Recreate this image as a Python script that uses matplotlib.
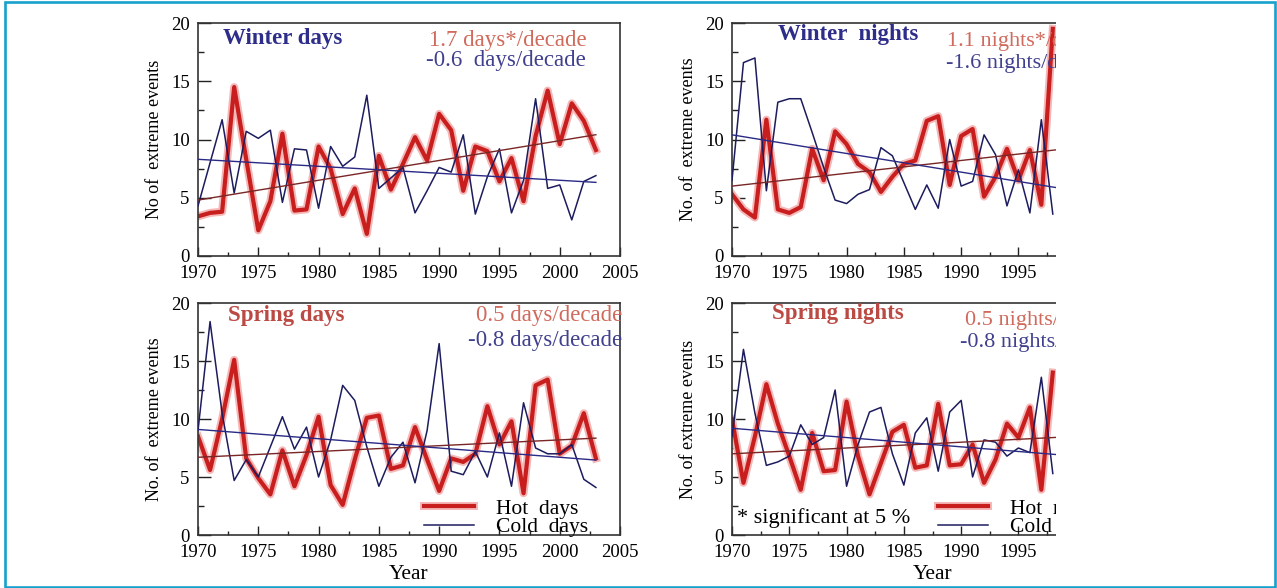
import matplotlib
matplotlib.use('Agg')
import matplotlib.pyplot as plt
import matplotlib.patheffects as pe
from matplotlib.lines import Line2D
from matplotlib.patches import Rectangle
from matplotlib.ticker import MultipleLocator

plt.rcParams['font.family'] = ['Liberation Serif', 'DejaVu Serif']

years_days = list(range(1970, 2004))
years_nights = list(range(1970, 1999))

# number of extreme events per season
winter_days_hot = [3.4, 3.7, 3.8, 14.5, 8.3, 2.2, 4.7, 10.5, 3.9, 4.0, 9.4, 7.5,
                   3.6, 5.8, 1.9, 8.6, 5.7, 7.9, 10.2, 8.2, 12.2, 10.8, 5.6, 9.4,
                   9.0, 6.4, 8.4, 4.7, 10.3, 14.2, 9.6, 13.1, 11.6, 9.1]
winter_days_cold = [4.3, 8.0, 11.7, 5.4, 10.7, 10.1, 10.8, 4.6, 9.2, 9.1, 4.1, 9.4,
                    7.7, 8.5, 13.8, 5.8, 6.7, 7.6, 3.7, 5.6, 7.6, 7.2, 10.4, 3.6,
                    6.8, 9.2, 3.7, 6.5, 13.5, 5.8, 6.1, 3.1, 6.4, 6.9]

spring_days_hot = [8.5, 5.6, 10.0, 15.1, 6.6, 4.9, 3.5, 7.3, 4.2, 6.9, 10.2, 4.3,
                   2.6, 6.5, 10.1, 10.3, 5.7, 6.0, 9.3, 6.5, 3.8, 6.6, 6.3, 7.0,
                   11.1, 7.8, 9.8, 3.6, 12.9, 13.4, 7.0, 7.7, 10.5, 6.6]
spring_days_cold = [9.0, 18.4, 10.5, 4.7, 6.5, 5.0, 7.6, 10.2, 7.4, 9.3, 5.0, 8.2,
                    12.9, 11.6, 7.6, 4.2, 6.7, 8.0, 4.5, 9.0, 16.5, 5.5, 5.2, 7.2,
                    5.0, 8.8, 4.2, 11.4, 7.5, 7.0, 7.0, 7.8, 4.8, 4.1]

winter_nights_hot = [5.3, 4.0, 3.3, 11.7, 4.0, 3.7, 4.2, 9.2, 6.5, 10.7, 9.6, 7.9,
                     7.2, 5.5, 6.8, 7.9, 8.2, 11.6, 12.0, 6.1, 10.3, 10.9, 5.1, 6.8,
                     9.2, 6.5, 9.1, 4.4, 19.5]
winter_nights_cold = [6.5, 16.6, 17.0, 5.6, 13.2, 13.5, 13.5, 10.6, 7.6, 4.8, 4.5, 5.3,
                      5.7, 9.3, 8.6, 6.3, 4.0, 6.1, 4.1, 10.0, 6.0, 6.4, 10.4, 8.7,
                      4.3, 7.4, 3.7, 11.7, 3.6]

spring_nights_hot = [10.0, 4.5, 8.5, 13.0, 9.6, 6.8, 3.9, 8.8, 5.5, 5.6, 11.5, 6.8,
                     3.5, 6.2, 8.9, 9.5, 5.8, 6.0, 11.3, 6.0, 6.1, 7.8, 4.5, 6.5,
                     9.6, 8.4, 11.0, 3.9, 14.0]
spring_nights_cold = [8.5, 16.0, 10.5, 6.0, 6.3, 6.8, 9.5, 7.8, 8.4, 12.5, 4.2, 7.8,
                      10.6, 11.0, 7.0, 4.3, 8.8, 10.1, 5.5, 10.6, 11.6, 5.0, 8.2, 8.0,
                      6.8, 7.5, 7.1, 13.6, 5.3]

# linear trends: value in 1970 and change per decade (hot, cold)
winter_days_trend_1970 = [4.8, 8.3]
winter_days_trend_slope = [1.7, -0.6]
spring_days_trend_1970 = [6.7, 9.1]
spring_days_trend_slope = [0.5, -0.8]
winter_nights_trend_1970 = [6.0, 10.4]
winter_nights_trend_slope = [1.1, -1.6]
spring_nights_trend_1970 = [7.0, 9.2]
spring_nights_trend_slope = [0.5, -0.8]
trend_years = [1970, 2003]

HOT = '#c81e1e'
HALO = '#f5b8b8'
COLD = '#1c1c5e'
HOT_TREND = '#7a2626'
COLD_TREND = '#2a2a86'
NAVY_TXT = '#2e2e8a'
RED_TITLE = '#bb4a44'
RED_TXT = '#d06a5c'
BLUE_TXT = '#40408e'

fig = plt.figure(figsize=(12.77, 5.88), dpi=100)
W, H = 1277.0, 588.0


def add_axes(left, top, width, height):
    return fig.add_axes([left / W, 1 - (top + height) / H, width / W, height / H])


def hot_effects():
    return [pe.Stroke(linewidth=5.8, foreground=HALO), pe.Normal()]


def draw_panel(ax, years, hot, cold, t1970, tslope, ylabel, xlabel=None):
    ax.plot(years, hot, color=HOT, lw=3.0, zorder=2, path_effects=hot_effects())
    ax.plot(years, cold, color=COLD, lw=1.1, zorder=3)
    for start, slope, c in zip(t1970, tslope, [HOT_TREND, COLD_TREND]):
        ty = [start + slope * (yr - 1970) / 10.0 for yr in trend_years]
        ax.plot(trend_years, ty, color=c, lw=1.0, zorder=4)

    ax.set_xlim(1970, 2005)
    ax.set_ylim(0, 20)
    ax.xaxis.set_major_locator(MultipleLocator(5))
    ax.xaxis.set_minor_locator(MultipleLocator(2.5))
    ax.yaxis.set_major_locator(MultipleLocator(5))
    ax.yaxis.set_minor_locator(MultipleLocator(2.5))
    ax.tick_params(which='both', direction='in', top=False, right=False,
                   labelsize=13.5, width=1.0, color='#222222')
    ax.tick_params(axis='x', which='major', length=6.5, pad=6.5)
    ax.tick_params(axis='x', which='minor', length=3)
    ax.tick_params(axis='y', which='major', length=9.5, pad=6)
    ax.tick_params(axis='y', which='minor', length=4.5)
    for sp in ax.spines.values():
        sp.set_linewidth(1.2)
        sp.set_color('#333333')
    ax.set_ylabel(ylabel, fontsize=13, labelpad=6)
    if xlabel:
        ax.set_xlabel(xlabel, fontsize=15.5, labelpad=3)


ax_wd = add_axes(198, 23, 422, 233)
ax_sd = add_axes(198, 303, 422, 232)
ax_wn = add_axes(732, 23, 401, 233)
ax_sn = add_axes(732, 303, 401, 232)

draw_panel(ax_wd, years_days, winter_days_hot, winter_days_cold,
           winter_days_trend_1970, winter_days_trend_slope, 'No of  extreme events')
draw_panel(ax_sd, years_days, spring_days_hot, spring_days_cold,
           spring_days_trend_1970, spring_days_trend_slope, 'No. of  extreme events', 'Year')
draw_panel(ax_wn, years_nights, winter_nights_hot, winter_nights_cold,
           winter_nights_trend_1970, winter_nights_trend_slope, 'No. of  extreme events')
draw_panel(ax_sn, years_nights, spring_nights_hot, spring_nights_cold,
           spring_nights_trend_1970, spring_nights_trend_slope, 'No. of extreme events', 'Year')

bold = dict(fontsize=16.5, fontweight='bold', va='center')
ax_wd.text(1972.1, 18.7, 'Winter days', color=NAVY_TXT, **bold)
ax_wn.text(1974.0, 19.0, 'Winter  nights', color=NAVY_TXT, **bold)
ax_sd.text(1972.5, 18.9, 'Spring days', color=RED_TITLE, **bold)
ax_sn.text(1973.5, 19.1, 'Spring nights', color=RED_TITLE, **bold)

note = dict(fontsize=16.5, va='center')
ax_wd.text(2002.2, 18.5, '1.7 days*/decade', color=RED_TXT, ha='right', **note)
ax_wd.text(2002.2, 16.8, '-0.6  days/decade', color=BLUE_TXT, ha='right', **note)
ax_sd.text(2005.2, 18.9, '0.5 days/decade', color=RED_TXT, ha='right', **note)
ax_sd.text(2005.2, 16.8, '-0.8 days/decade', color=BLUE_TXT, ha='right', **note)
note['fontsize'] = 16
ax_wn.text(1988.8, 18.4, '1.1 nights*/decade', color=RED_TXT, **note)
ax_wn.text(1988.7, 16.5, '-1.6 nights/decade', color=BLUE_TXT, **note)
ax_sn.text(1990.3, 18.5, '0.5 nights/decade', color=RED_TXT, **note)
ax_sn.text(1989.9, 16.6, '-0.8 nights/decade', color=BLUE_TXT, **note)

ax_sn.text(1970.4, 1.5, '* significant at 5 %', fontsize=16, va='center')

keys = [Line2D([], [], color=HOT, lw=3.0, path_effects=hot_effects()),
        Line2D([], [], color=COLD, lw=1.1)]
for ax, labels, x0 in [(ax_sd, ['Hot  days', 'Cold  days'], 0.536),
                       (ax_sn, ['Hot  nights', 'Cold  nights'], 0.514)]:
    ax.legend(keys, labels, loc='lower left', bbox_to_anchor=(x0, -0.01),
              frameon=False, fontsize=15.5, handlelength=2.3, handletextpad=1.05,
              labelspacing=-0.08, borderpad=0, borderaxespad=0)

# right-hand panels are cut off at the edge of the frame
fig.add_artist(Rectangle((1056 / W, 0), (W - 1056) / W, 1, transform=fig.transFigure,
                         facecolor='white', edgecolor='none', zorder=10))
fig.add_artist(Rectangle((5 / W, 1.2 / H), 1270 / W, 585 / H, transform=fig.transFigure,
                         facecolor='none', edgecolor='#17a2cc', lw=1.9, zorder=11))

fig.savefig('out.png', dpi=100)
